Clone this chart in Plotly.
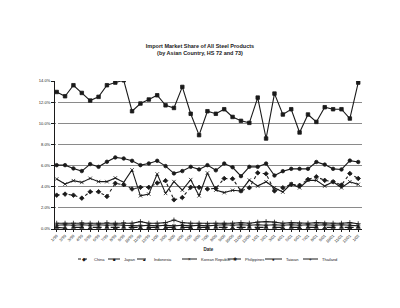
import plotly.graph_objects as go

dates = ["1/99","2/99","3/99","4/99","5/99","6/99","7/99","8/99","9/99","10/99","11/99","12/99",
         "1/00","2/00","3/00","4/00","5/00","6/00","7/00","8/00","9/00","10/00","11/00","12/00",
         "1/01","2/01","3/01","4/01","5/01","6/01","7/01","8/01","9/01","10/01","11/01","12/01","1/02"]

china = [3.2,3.3,3.2,2.92,3.52,3.52,3.08,4.32,4.19,3.78,3.94,3.94,4.35,4.57,2.76,2.98,3.94,3.94,3.78,3.84,
         4.78,4.75,3.6,3.9,5.31,5.22,3.6,3.9,4.22,4.13,4.69,4.94,4.6,4.47,4.16,5.25,4.78]
japan = [12.96,12.56,13.6,12.87,12.15,12.5,13.6,13.85,14.07,11.14,11.87,12.25,12.65,11.7,11.45,13.44,10.9,8.88,11.14,10.9,
         11.33,10.6,10.23,10.04,12.43,8.56,12.81,10.83,11.33,9.13,10.83,10.13,11.52,11.33,11.33,10.45,13.85]
indonesia = [0.15,0.1,0.15,0.15,0.1,0.15,0.15,0.1,0.15,0.15,0.1,0.1,0.15,0.1,0.1,0.15,0.1,0.15,0.1,0.15,
             0.15,0.1,0.15,0.15,0.1,0.15,0.15,0.1,0.15,0.1,0.15,0.15,0.1,0.15,0.15,0.1,0.15]
korea = [4.73,4.25,4.57,4.41,4.79,4.48,4.48,4.83,4.41,5.59,3.14,3.3,5.2,3.37,4.48,3.68,4.67,3.14,5.3,3.68,
         3.44,3.66,3.6,4.63,4.06,4.47,3.9,3.5,4.28,3.9,4.6,4.6,4.06,4.47,3.9,4.47,4.22]
philippines = [0.35,0.4,0.35,0.4,0.35,0.4,0.35,0.4,0.35,0.3,0.3,0.35,0.3,0.35,0.3,0.35,0.3,0.35,0.3,0.35,
               0.4,0.35,0.4,0.35,0.4,0.35,0.4,0.35,0.4,0.35,0.4,0.35,0.4,0.35,0.4,0.35,0.3]
taiwan = [6.04,6.04,5.73,5.48,6.14,5.88,6.36,6.77,6.67,6.45,6.04,6.2,6.45,5.95,5.26,5.48,5.88,5.64,6.04,5.55,
          6.19,5.84,5.0,5.88,5.88,6.19,5.06,5.47,5.69,5.69,5.69,6.34,6.09,5.69,5.63,6.47,6.34]
thailand = [0.55,0.55,0.55,0.6,0.55,0.55,0.6,0.55,0.6,0.55,0.7,0.55,0.55,0.6,0.85,0.6,0.55,0.55,0.5,0.55,
            0.55,0.55,0.6,0.55,0.65,0.7,0.65,0.55,0.6,0.55,0.55,0.6,0.55,0.55,0.55,0.6,0.5]

y_ticks = [0, 2, 4, 6, 8, 10, 12, 14]
y_labels = ["0.0%", "2.0%", "4.0%", "6.0%", "8.0%", "10.0%", "12.0%", "14.0%"]

series = [
    ("China", china, "dot", "diamond", "◆"),
    ("Japan", japan, "solid", "square", "■"),
    ("Indonesia", indonesia, "dash", "triangle-up", "▲"),
    ("Korean Republic", korea, "solid", "x-thin-open", "×"),
    ("Philippines", philippines, "solid", "asterisk-open", "✱"),
    ("Taiwan", taiwan, "solid", "circle", "●"),
    ("Thailand", thailand, "solid", "cross-thin-open", "+"),
]

W, H = 400, 308
ML, MR, MT, MB = 55, 38, 81, 79
PW, PH = W - ML - MR, H - MT - MB

def px_x(p):
    return (p - ML) / PW

def px_y(p):
    return (H - MB - p) / PH

ink = "#1a1a1a"
fig = go.Figure()
xs = list(range(len(dates)))
for name, vals, dash, sym, glyph in series:
    fig.add_trace(go.Scatter(
        x=xs, y=vals, name=name, mode="lines+markers", showlegend=False,
        line=dict(color=ink, width=1.1, dash=dash),
        marker=dict(symbol=sym, size=3.5, color=ink, line=dict(color=ink, width=0.8)),
    ))

# custom compact legend (pixel positions of sample line start/end)
legend_pos = [(78, 90), (108, 120), (137, 150), (182, 197), (228, 241), (265, 282), (303, 318)]
leg_y = 259
for (name, vals, dash, sym, glyph), (x0, x1) in zip(series, legend_pos):
    fig.add_shape(type="line", xref="paper", yref="paper",
                  x0=px_x(x0), x1=px_x(x1), y0=px_y(leg_y), y1=px_y(leg_y),
                  line=dict(color=ink, width=1, dash=dash))
    fig.add_annotation(xref="paper", yref="paper", x=px_x((x0 + x1) / 2), y=px_y(leg_y),
                       text=glyph, showarrow=False, font=dict(size=4.5, color=ink),
                       xanchor="center", yanchor="middle")
    fig.add_annotation(xref="paper", yref="paper", x=px_x(x1 + 1.5), y=px_y(leg_y),
                       text=name, showarrow=False, font=dict(size=4, color=ink),
                       xanchor="left", yanchor="middle")

fig.update_layout(
    width=W, height=H,
    margin=dict(l=ML, r=MR, t=MT, b=MB, autoexpand=False),
    paper_bgcolor="white", plot_bgcolor="white",
    font=dict(family="Liberation Sans", color=ink, size=4),
    title=dict(text="<b>Import Market Share of All Steel Products<br>(by Asian Country, HS 72 and 73)</b>",
               x=0.5, xanchor="center", y=0.845, yanchor="middle",
               font=dict(size=5.5, color=ink)),
    showlegend=False,
)
fig.update_xaxes(
    tickmode="array", tickvals=xs, ticktext=dates, tickangle=-45,
    range=[-0.2, 36.45], showgrid=False, showline=True, linecolor=ink, linewidth=1,
    ticks="outside", ticklen=2, tickcolor=ink, tickfont=dict(size=4),
    title=dict(text="<b>Date</b>", font=dict(size=4.5), standoff=4),
)
fig.update_yaxes(
    tickmode="array", tickvals=y_ticks, ticktext=y_labels, range=[0, 14],
    showgrid=True, gridcolor="#8a8a8a", gridwidth=1, showline=True, linecolor=ink, linewidth=1,
    ticks="outside", ticklen=3, tickcolor=ink, tickfont=dict(size=4), zeroline=False,
)
fig.write_html("out.html")
